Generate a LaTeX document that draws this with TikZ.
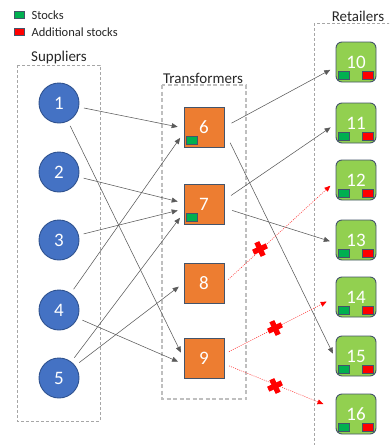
\documentclass[tikz,border=0pt]{standalone}
\usepackage{fontspec}
\setmainfont{Carlito}
\usetikzlibrary{arrows.meta}

\definecolor{supblue}{HTML}{4472C4}
\definecolor{supedge}{HTML}{2F528F}
\definecolor{trorange}{HTML}{ED7D31}
\definecolor{nodeedge}{HTML}{44546A}
\definecolor{retgreen}{HTML}{92D050}
\definecolor{stockgreen}{HTML}{00B050}
\definecolor{linegray}{HTML}{5A5A5A}
\definecolor{groupgray}{HTML}{A6A6A6}
\definecolor{groupgraylight}{HTML}{BFBFBF}

\tikzset{
  numfont/.style={font=\fontsize{19}{19}\selectfont, text=white},
  supplier/.style={circle, fill=supblue, draw=supedge, line width=0.9pt,
    minimum size=40pt, inner sep=0pt, numfont},
  transformer/.style={rectangle, fill=trorange, draw=nodeedge, line width=0.9pt,
    minimum size=40pt, inner sep=0pt, numfont},
  retailer/.style={rectangle, rounded corners=6pt, fill=retgreen, draw=nodeedge,
    line width=0.9pt, minimum size=40pt, inner sep=0pt, numfont},
  stockbox/.style={rectangle, fill=stockgreen, draw=nodeedge, line width=0.7pt,
    minimum width=11pt, minimum height=8pt, inner sep=0pt},
  extrabox/.style={stockbox, fill=red},
  group/.style={draw=groupgray, dashed, line width=0.6pt, dash pattern=on 3pt off 2pt},
  grouplight/.style={draw=groupgraylight, line width=1.3pt, dash pattern=on 4pt off 2.5pt},
  grouplabel/.style={font=\fontsize{15}{15}\selectfont, text=black!85},
  flow/.style={draw=linegray, line width=0.55pt,
    -{Triangle[length=6pt,width=5pt]}, shorten <=5pt, shorten >=6pt},
  blocked/.style={draw=red!75, line width=0.6pt, dash pattern=on 1pt off 1.2pt,
    -{Triangle[length=6pt,width=5pt,fill=red,color=red]}, shorten <=5pt, shorten >=7pt},
  blockcross/.pic={
    \fill[red] (-7.5,-2.7) rectangle (7.5,2.7);
    \fill[red] (-2.7,-7.5) rectangle (2.7,7.5);
  },
  legendtext/.style={anchor=west, font=\fontsize{12.5}{12.5}\selectfont, text=black!85}
}

\begin{document}
\begin{tikzpicture}[x=1pt,y=-1pt]
\useasboundingbox (0,0) rectangle (389,445);

% legend
\node[stockbox, minimum width=10pt, minimum height=7pt] (lg) at (19.5,15) {};
\node[extrabox, minimum width=10pt, minimum height=7pt] (lr) at (19.5,31.5) {};
\node[legendtext] (lgt) at (28,15.5) {Stocks};
\node[legendtext] (lrt) at (28,32) {Additional stocks};

% groups
\draw[group] (17,65) rectangle (100,421);
\node[grouplabel] (supl) at (59,57) {Suppliers};
\draw[grouplight] (162,85) rectangle (246,399);
\node[grouplabel] (trl) at (203,78) {Transformers};
\begin{scope}
  \clip (0,0) rectangle (389,445);
  \draw[group] (314,23) rectangle (400,460);
\end{scope}
\node[grouplabel] (rel) at (358,16) {Retailers};

% suppliers
\node[supplier] (s1) at (59,103) {1};
\node[supplier] (s2) at (59,172) {2};
\node[supplier] (s3) at (59,240) {3};
\node[supplier] (s4) at (59,310) {4};
\node[supplier] (s5) at (59,378) {5};

% transformers
\node[transformer] (t6) at (204,127) {6};
\node[transformer] (t7) at (204,204) {7};
\node[transformer] (t8) at (204,283) {8};
\node[transformer] (t9) at (204,358) {9};
\node[stockbox] (t6s) at ([xshift=8.5pt,yshift=7pt]t6.south west) {};
\node[stockbox] (t7s) at ([xshift=8.5pt,yshift=7pt]t7.south west) {};

% retailers
\foreach \n/\y in {10/62, 11/123, 12/180, 13/240, 14/297, 15/356, 16/414}{
  \node[retailer] (r\n) at (356,\y) {\n};
  \node[stockbox] (r\n s) at ([xshift=8.5pt,yshift=7pt]r\n.south west) {};
  \node[extrabox] (r\n a) at ([xshift=-9pt,yshift=7pt]r\n.south east) {};
}

% supplier -> transformer flows
\draw[flow] (s1) -- ([yshift=-1pt]t6.west);
\draw[flow] (s4) -- ([yshift=-6pt]t6.west);
\draw[flow] (s2) -- ([yshift=1pt]t7.west);
\draw[flow] (s3) -- ([yshift=-5pt]t7.west);
\draw[flow] (s5) -- ([yshift=-9pt]t7.west);
\draw[flow] (s5) -- (t8.west);
\draw[flow] (s1) -- (t9.west);
\draw[flow] (s4) -- ([yshift=-6pt]t9.west);

% transformer -> retailer flows
\draw[flow, shorten <=8pt] (t6.east) -- ([yshift=-5pt]r10.west);
\draw[flow, shorten <=13pt] ([yshift=-4pt]t6.east) -- ([yshift=-3pt]r15.west);
\draw[flow, shorten <=8pt] ([yshift=4pt]t7.east) -- ([yshift=-1pt]r11.west);
\draw[flow, shorten <=8pt] ([yshift=-4pt]t7.east) -- ([yshift=-3pt]r13.west);

% interrupted flows
\draw[blocked] (t8.east) -- ([yshift=-1pt]r12.west);
\draw[blocked, shorten >=10pt] ([yshift=4pt]t9.east) -- (r14.west);
\draw[blocked, shorten >=13pt] ([yshift=-6pt]t9.east) -- ([yshift=5pt]r16.west);
\pic[rotate=25] at (260,249) {blockcross};
\pic[rotate=25] at (275,328) {blockcross};
\pic[rotate=25] at (275,386) {blockcross};
\end{tikzpicture}
\end{document}
